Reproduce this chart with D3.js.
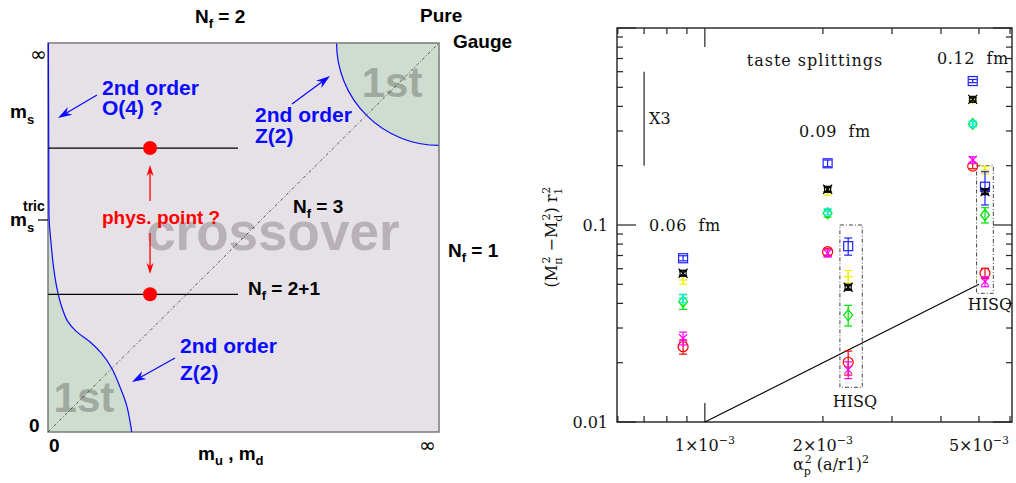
<!DOCTYPE html>
<html>
<head>
<meta charset="utf-8">
<script src="https://cdnjs.cloudflare.com/ajax/libs/d3/7.8.5/d3.min.js"></script>
<style>
body { margin: 0; background: #fff; }
svg { display: block; }
.hv { font-family: "Liberation Sans", Arial, sans-serif; font-weight: bold; }
.sm { font-family: "DejaVu Serif", serif; fill: #111; }
</style>
</head>
<body>
<svg id="chart" width="1016" height="483"></svg>
<script>
// ---------- right panel: taste splittings ----------
var lattice = ["0.06 fm", "0.09 fm", "0.09 fm HISQ", "0.12 fm", "0.12 fm HISQ"];
var alphaA2 = [8.80e-4, 2.056e-3, 2.32e-3, 4.82e-3, 5.18e-3];

var splitRed     = [0.0241, 0.0732, 0.0201, 0.199, 0.0569];
var errRed       = [0.0020, 0.0030, 0.0028, 0.006, 0.0034];
var splitMagenta = [0.0266, 0.0718, 0.0184, 0.2138, 0.0516];
var errMagenta   = [0.0020, 0.0030, 0.0018, 0.008, 0.0030];
var splitGreen   = [0.0408, 0.1147, 0.0349, 0.326, 0.1124];
var errGreen     = [0.0035, 0.0050, 0.0042, 0.010, 0.0100];
var splitCyan    = [0.0425, 0.1168, null, 0.326, null];
var errCyan      = [0.0020, 0.0040, 0, 0.010, 0];
var splitYellow  = [0.0526, 0.1476, 0.0547, 0.430, 0.190];
var errYellow    = [0.0025, 0.0060, 0.0040, 0.012, 0.0085];
var splitBlue    = [0.0678, 0.2057, 0.0781, 0.538, 0.1564];
var errBlue      = [0.0020, 0.0080, 0.0078, 0.010, 0.0300];
var splitBlack   = [0.0569, 0.1518, 0.0483, 0.434, 0.1476];
var errBlack     = [0.0015, 0.0040, 0.0012, 0.008, 0.0040];

var yTickLabels = [0.01, 0.1];
var xTickLabels = [1e-3, 2e-3, 5e-3];

// a^2 reference line (slope one) and the "X3" bar
var refLineX = [1e-3, 5e-3];
var refLineY = [0.01, 0.05];
var scaleBarX = 7e-4;
var scaleBarY = [0.2, 0.6];

// dash-dot boxes round the HISQ points: [x0, x1, y0, y1]
var hisqBox09 = [2.21e-3, 2.52e-3, 0.015, 0.1];
var hisqBox12 = [4.93e-3, 5.44e-3, 0.045, 0.2];

// ---------- left panel: Columbia plot (unit square) ----------
var crossoverCurve = [[0.001, 1.0], [0.002, 0.70], [0.003, 0.545], [0.007, 0.494], [0.014, 0.425],
    [0.022, 0.374], [0.035, 0.322], [0.050, 0.285], [0.073, 0.258], [0.107, 0.232],
    [0.137, 0.202], [0.163, 0.164], [0.184, 0.116], [0.201, 0.069], [0.212, 0.014], [0.214, 0]];
var tricIndex = 2;
var firstOrderRadius = 0.262;
var msPhys = 0.730, msLow = 0.354, mudPhys = 0.261, lineEnd = 0.486;

var svg = d3.select("#chart");

drawColumbia();
drawSplittings();

function drawColumbia() {
    var lx = d3.scaleLinear().domain([0, 1]).range([48, 439]);
    var ly = d3.scaleLinear().domain([0, 1]).range([432, 43]);
    var g = svg.append("g");
    var blue = "#0a0aff";

    g.append("rect")
        .attr("x", lx(0)).attr("y", ly(1))
        .attr("width", lx(1) - lx(0)).attr("height", ly(0) - ly(1))
        .attr("fill", "#e6e1e6");

    // upper right first order corner
    var r = lx(1) - lx(1 - firstOrderRadius);
    var p = d3.path();
    p.moveTo(lx(1) - r, ly(1));
    p.arc(lx(1), ly(1), r, Math.PI, Math.PI / 2, true);
    p.lineTo(lx(1), ly(1));
    p.closePath();
    g.append("path").attr("d", p.toString()).attr("fill", "#cfddd0");
    var pa = d3.path();
    pa.moveTo(lx(1) - r, ly(1));
    pa.arc(lx(1), ly(1), r, Math.PI, Math.PI / 2, true);
    g.append("path").attr("d", pa.toString()).attr("fill", "none").attr("stroke", blue).attr("stroke-width", 1.2);

    // lower left first order region
    var line = d3.line()
        .x(function (d) { return lx(d[0]); })
        .y(function (d) { return ly(d[1]); })
        .curve(d3.curveCatmullRom);
    var low = crossoverCurve.slice(tricIndex);
    g.append("path")
        .attr("d", line(low) + "L" + lx(0) + "," + ly(0) + "L" + lx(0) + "," + ly(low[0][1]) + "Z")
        .attr("fill", "#cfddd0");

    g.append("text").attr("class", "hv").attr("x", lx(0.88)).attr("y", ly(0.862))
        .attr("text-anchor", "middle").attr("font-size", 42).attr("fill", "#a0a99f").text("1st");
    g.append("text").attr("class", "hv").attr("x", lx(0.092)).attr("y", ly(0.051))
        .attr("text-anchor", "middle").attr("font-size", 42).attr("fill", "#a0a99f").text("1st");
    g.append("text").attr("class", "hv").attr("x", lx(0.575)).attr("y", ly(0.468))
        .attr("text-anchor", "middle").attr("font-size", 53).attr("fill", "#b8b2b8").text("crossover");

    // frame
    g.append("rect")
        .attr("x", lx(0)).attr("y", ly(1))
        .attr("width", lx(1) - lx(0)).attr("height", ly(0) - ly(1))
        .attr("fill", "none").attr("stroke", "#7a7a7a").attr("stroke-width", 1.5);

    // N_f = 3 diagonal
    g.append("line")
        .attr("x1", lx(0)).attr("y1", ly(0)).attr("x2", lx(1)).attr("y2", ly(1))
        .attr("stroke", "#333").attr("stroke-width", 0.8).attr("stroke-dasharray", "3,2,1,2");

    g.append("path").attr("d", line(crossoverCurve))
        .attr("fill", "none").attr("stroke", blue).attr("stroke-width", 1.2);

    // m_s lines and physical points
    [msPhys, msLow].forEach(function (m) {
        g.append("line")
            .attr("x1", lx(0)).attr("y1", ly(m)).attr("x2", lx(lineEnd)).attr("y2", ly(m))
            .attr("stroke", "#000").attr("stroke-width", 1.2);
        g.append("circle").attr("cx", lx(mudPhys)).attr("cy", ly(m)).attr("r", 7).attr("fill", "#ff0000");
    });
    arrow(g, lx(mudPhys), 201, lx(mudPhys), 165, "#ff0000", 11, 3.5);
    arrow(g, lx(mudPhys), 233, lx(mudPhys), 274, "#ff0000", 11, 3.5);

    // tric tick
    g.append("line").attr("x1", 38).attr("x2", lx(0)).attr("y1", ly(crossoverCurve[tricIndex][1]))
        .attr("y2", ly(crossoverCurve[tricIndex][1])).attr("stroke", "#000").attr("stroke-width", 1.2);

    arrow(g, 97, 95, 58, 118, blue, 14, 4.5);
    arrow(g, 292, 104, 330, 76, blue, 14, 4.5);
    arrow(g, 175, 358, 132, 382, blue, 14, 4.5);

    rich(g, 102, 95, 21, blue, [["2nd order"]]);
    rich(g, 102, 115, 21, blue, [["O(4) ?"]]);
    rich(g, 255, 122, 21, blue, [["2nd order"]]);
    rich(g, 255, 143, 21, blue, [["Z(2)"]]);
    rich(g, 180, 353, 21, blue, [["2nd order"]]);
    rich(g, 180, 380, 21, blue, [["Z(2)"]]);
    rich(g, 102, 224, 19, "#ff0000", [["phys. point ?"]]);

    rich(g, 195, 23, 19, "#000", [["N"], ["f", 5, 13], [" = 2", -5]]);
    rich(g, 420, 22, 19, "#000", [["Pure"]]);
    rich(g, 453, 48, 19, "#000", [["Gauge"]]);
    rich(g, 293, 213, 19, "#000", [["N"], ["f", 5, 13], [" = 3", -5]]);
    rich(g, 448, 257, 19, "#000", [["N"], ["f", 5, 13], [" = 1", -5]]);
    rich(g, 248, 295, 19, "#000", [["N"], ["f", 5, 13], [" = 2+1", -5]]);
    rich(g, 198, 460, 19, "#000", [["m"], ["u", 5, 13], [" , m", -5], ["d", 5, 13]]);
    rich(g, 10, 118, 19, "#000", [["m"], ["s", 6, 13]]);
    rich(g, 10, 226, 19, "#000", [["m"], ["s", 6, 13]]);
    rich(g, 23, 211, 14, "#000", [["tric"]]);
    rich(g, 29, 432, 19, "#000", [["0"]]);
    rich(g, 49, 452, 19, "#000", [["0"]]);
    g.append("text").attr("x", 30).attr("y", 61).attr("font-family", "DejaVu Sans")
        .attr("font-size", 20).text("\u221e");
    g.append("text").attr("x", 419).attr("y", 452).attr("font-family", "DejaVu Sans")
        .attr("font-size", 20).text("\u221e");
}

// text with sub/superscripts: parts are [string, dy, fontSize]
function rich(g, x, y, size, color, parts) {
    var t = g.append("text").attr("class", "hv").attr("x", x).attr("y", y)
        .attr("font-size", size).attr("fill", color);
    parts.forEach(function (q) {
        t.append("tspan").attr("dy", q[1] || 0).attr("font-size", q[2] || size).text(q[0]);
    });
    return t;
}

function arrow(g, x1, y1, x2, y2, color, len, w) {
    var a = Math.atan2(y2 - y1, x2 - x1);
    var c = Math.cos(a), s = Math.sin(a);
    g.append("line")
        .attr("x1", x1).attr("y1", y1)
        .attr("x2", x2 - c * len * 0.7).attr("y2", y2 - s * len * 0.7)
        .attr("stroke", color).attr("stroke-width", 1.3);
    var pts = [
        [x2, y2],
        [x2 - c * len + s * w, y2 - s * len - c * w],
        [x2 - c * len * 0.7, y2 - s * len * 0.7],
        [x2 - c * len - s * w, y2 - s * len + c * w]
    ];
    g.append("polygon").attr("points", pts.map(function (d) { return d.join(","); }).join(" "))
        .attr("fill", color);
}

function drawSplittings() {
    var x = d3.scaleLog().domain([5.97e-4, 6.07e-3]).range([617, 1012]);
    var y = d3.scaleLog().domain([0.01, 1]).range([422, 28]);
    var g = svg.append("g");
    var ink = "#222";

    // ticks on all four sides, pointing inwards
    y.ticks().forEach(function (v) {
        var major = Math.abs(Math.log10(v) - Math.round(Math.log10(v))) < 1e-6;
        var len = major ? 19 : 6;
        g.append("line").attr("x1", x.range()[0]).attr("x2", x.range()[0] + len)
            .attr("y1", y(v)).attr("y2", y(v)).attr("stroke", ink).attr("stroke-width", 1.2);
        g.append("line").attr("x1", x.range()[1]).attr("x2", x.range()[1] - len)
            .attr("y1", y(v)).attr("y2", y(v)).attr("stroke", ink).attr("stroke-width", 1.2);
    });
    x.ticks().forEach(function (v) {
        var major = Math.abs(Math.log10(v) - Math.round(Math.log10(v))) < 1e-6;
        var len = major ? 19 : 6;
        g.append("line").attr("x1", x(v)).attr("x2", x(v))
            .attr("y1", y.range()[0]).attr("y2", y.range()[0] - len).attr("stroke", ink).attr("stroke-width", 1.2);
        g.append("line").attr("x1", x(v)).attr("x2", x(v))
            .attr("y1", y.range()[1]).attr("y2", y.range()[1] + len).attr("stroke", ink).attr("stroke-width", 1.2);
    });
    g.append("rect")
        .attr("x", x.range()[0]).attr("y", y.range()[1])
        .attr("width", x.range()[1] - x.range()[0]).attr("height", y.range()[0] - y.range()[1])
        .attr("fill", "none").attr("stroke", ink).attr("stroke-width", 1.4);

    // tick labels
    yTickLabels.forEach(function (v) {
        g.append("text").attr("class", "sm").attr("x", 608).attr("y", y(v) + 6)
            .attr("text-anchor", "end").attr("font-size", 16).text(v);
    });
    xTickLabels.forEach(function (v) {
        var t = g.append("text").attr("class", "sm").attr("x", x(v)).attr("y", 451)
            .attr("text-anchor", "middle").attr("font-size", 16);
        t.append("tspan").text(Math.round(v * 1000) + "\u00d710");
        t.append("tspan").attr("dy", -7).attr("font-size", 11).text("\u22123");
    });

    // axis titles
    var xl = g.append("text").attr("class", "sm").attr("x", 831).attr("y", 470)
        .attr("text-anchor", "middle").attr("font-size", 16);
    xl.append("tspan").text("\u03b1");
    xl.append("tspan").attr("dy", 5).attr("font-size", 11).text("p");
    xl.append("tspan").attr("dy", -12).attr("dx", -6).attr("font-size", 11).text("2");
    xl.append("tspan").attr("dy", 7).text(" (a/r1)");
    xl.append("tspan").attr("dy", -7).attr("font-size", 11).text("2");

    var yl = g.append("text").attr("class", "sm").attr("font-size", 16)
        .attr("text-anchor", "middle").attr("transform", "translate(557,237) rotate(-90)");
    yl.append("tspan").text("(M");
    yl.append("tspan").attr("dy", 5).attr("font-size", 11).text("\u03c0");
    yl.append("tspan").attr("dy", -12).attr("dx", -6).attr("font-size", 11).text("2");
    yl.append("tspan").attr("dy", 7).text(" \u2212M");
    yl.append("tspan").attr("dy", 5).attr("font-size", 11).text("d");
    yl.append("tspan").attr("dy", -12).attr("dx", -6).attr("font-size", 11).text("2");
    yl.append("tspan").attr("dy", 7).text(")  r");
    yl.append("tspan").attr("dy", 5).attr("font-size", 11).text("1");
    yl.append("tspan").attr("dy", -12).attr("dx", -6).attr("font-size", 11).text("2");

    // annotations
    g.append("text").attr("class", "sm").attr("x", 815).attr("y", 66).attr("text-anchor", "middle")
        .attr("font-size", 16).attr("letter-spacing", 1).text("taste splittings");
    g.append("text").attr("class", "sm").attr("x", 649).attr("y", 231).attr("font-size", 16)
        .attr("letter-spacing", 0.6).attr("xml:space", "preserve").text("0.06  fm");
    g.append("text").attr("class", "sm").attr("x", 799).attr("y", 137).attr("font-size", 16)
        .attr("letter-spacing", 0.6).attr("xml:space", "preserve").text("0.09  fm");
    g.append("text").attr("class", "sm").attr("x", 937).attr("y", 64).attr("font-size", 16)
        .attr("letter-spacing", 0.6).attr("xml:space", "preserve").text("0.12  fm");
    g.append("text").attr("class", "sm").attr("x", 649).attr("y", 124).attr("font-size", 16).text("X3");
    g.append("text").attr("class", "sm").attr("x", 855).attr("y", 407).attr("text-anchor", "middle")
        .attr("font-size", 16).text("HISQ");
    g.append("text").attr("class", "sm").attr("x", 990).attr("y", 310).attr("text-anchor", "middle")
        .attr("font-size", 16).text("HISQ");

    g.append("line")
        .attr("x1", x(scaleBarX)).attr("x2", x(scaleBarX))
        .attr("y1", y(scaleBarY[0])).attr("y2", y(scaleBarY[1]))
        .attr("stroke", "#444").attr("stroke-width", 1.4);
    g.append("line")
        .attr("x1", x(refLineX[0])).attr("y1", y(refLineY[0]))
        .attr("x2", x(refLineX[1])).attr("y2", y(refLineY[1]))
        .attr("stroke", "#000").attr("stroke-width", 1.1);

    [hisqBox09, hisqBox12].forEach(function (b) {
        g.append("rect")
            .attr("x", x(b[0])).attr("y", y(b[3]))
            .attr("width", x(b[1]) - x(b[0])).attr("height", y(b[2]) - y(b[3]))
            .attr("fill", "none").attr("stroke", "#444").attr("stroke-width", 1)
            .attr("stroke-dasharray", "4,2,1,2");
    });

    var series = [
        { vals: splitRed, errs: errRed, color: "#ff0000", shape: "circle" },
        { vals: splitMagenta, errs: errMagenta, color: "#ff00ff", shape: "cross" },
        { vals: splitGreen, errs: errGreen, color: "#00e000", shape: "diamond" },
        { vals: splitCyan, errs: errCyan, color: "#00f0f0", shape: "plus" },
        { vals: splitYellow, errs: errYellow, color: "#f0f000", shape: "plus" },
        { vals: splitBlue, errs: errBlue, color: "#1f1fff", shape: "square" },
        { vals: splitBlack, errs: errBlack, color: "#000000", shape: "boxcross" }
    ];
    series.forEach(function (s) {
        s.vals.forEach(function (v, i) {
            if (v == null) return;
            var cx = x(alphaA2[i]), cy = y(v);
            var pg = g.append("g").attr("stroke", s.color).attr("fill", "none").attr("stroke-width", 1.2);
            var yt = y(v + s.errs[i]), yb = y(v - s.errs[i]);
            pg.append("line").attr("x1", cx).attr("x2", cx).attr("y1", yt).attr("y2", yb);
            pg.append("line").attr("x1", cx - 4).attr("x2", cx + 4).attr("y1", yt).attr("y2", yt);
            pg.append("line").attr("x1", cx - 4).attr("x2", cx + 4).attr("y1", yb).attr("y2", yb);
            marker(pg, s.shape, cx, cy);
        });
    });
}

function marker(g, shape, cx, cy) {
    if (shape == "circle") {
        g.append("circle").attr("cx", cx).attr("cy", cy).attr("r", 5);
    } else if (shape == "square") {
        g.append("rect").attr("x", cx - 4.5).attr("y", cy - 4.5).attr("width", 9).attr("height", 9);
    } else if (shape == "diamond") {
        g.append("path").attr("d", "M" + cx + "," + (cy - 5.5) + "L" + (cx + 4.5) + "," + cy +
            "L" + cx + "," + (cy + 5.5) + "L" + (cx - 4.5) + "," + cy + "Z");
    } else if (shape == "plus") {
        g.append("line").attr("x1", cx - 4.5).attr("x2", cx + 4.5).attr("y1", cy).attr("y2", cy);
        g.append("line").attr("x1", cx).attr("x2", cx).attr("y1", cy - 4.5).attr("y2", cy + 4.5);
    } else if (shape == "cross") {
        g.append("line").attr("x1", cx - 4).attr("x2", cx + 4).attr("y1", cy - 4).attr("y2", cy + 4);
        g.append("line").attr("x1", cx - 4).attr("x2", cx + 4).attr("y1", cy + 4).attr("y2", cy - 4);
    } else {
        g.append("rect").attr("x", cx - 3).attr("y", cy - 3).attr("width", 6).attr("height", 6);
        g.append("line").attr("x1", cx - 4.5).attr("x2", cx + 4.5).attr("y1", cy - 4.5).attr("y2", cy + 4.5);
        g.append("line").attr("x1", cx - 4.5).attr("x2", cx + 4.5).attr("y1", cy + 4.5).attr("y2", cy - 4.5);
    }
}
</script>
</body>
</html>
